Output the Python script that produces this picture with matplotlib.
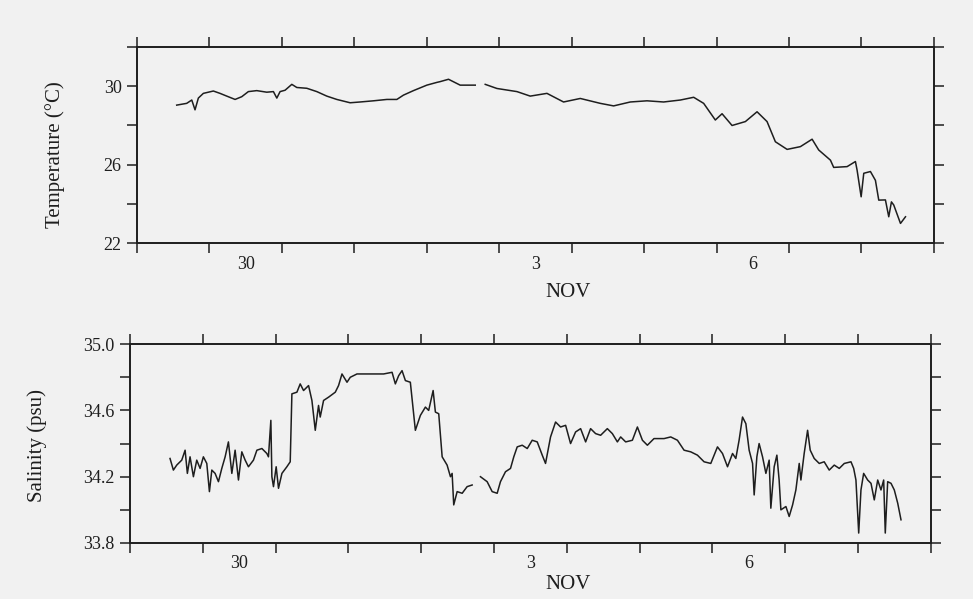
import numpy as np
import matplotlib.pyplot as plt

# x positions are days since 29 Oct 00:00 (ticks mark midnight)
temp_day = [0.548, 0.686, 0.756, 0.801, 0.847, 0.916, 1.054, 1.146, 1.239, 1.354,
            1.446, 1.537, 1.653, 1.791, 1.883, 1.930, 1.975, 2.044, 2.137, 2.206,
            2.344, 2.482, 2.620, 2.758, 2.942, 3.080, 3.264, 3.449, 3.587, 3.678,
            3.816, 4.001, 4.139, 4.185, 4.300, 4.461, 4.669, 4.740, 4.807, 4.968,
            5.245, 5.428, 5.659, 5.888, 6.119, 6.395, 6.579, 6.809, 7.040, 7.269,
            7.500, 7.684, 7.822, 7.983, 8.076, 8.214, 8.398, 8.559, 8.697, 8.812,
            8.974, 9.157, 9.319, 9.410, 9.572, 9.617, 9.802, 9.917, 9.940, 9.996,
            10.032, 10.124, 10.193, 10.239, 10.331, 10.377, 10.414, 10.446, 10.539, 10.608]
temp_val = [29.04, 29.13, 29.30, 28.80, 29.40, 29.64, 29.76, 29.64, 29.50, 29.33,
            29.47, 29.73, 29.78, 29.70, 29.73, 29.40, 29.73, 29.80, 30.10, 29.94,
            29.90, 29.73, 29.50, 29.33, 29.16, 29.20, 29.26, 29.33, 29.33, 29.55,
            29.78, 30.06, 30.20, 30.24, 30.36, 30.06, 30.06, np.nan, 30.10, 29.89,
            29.73, 29.50, 29.64, 29.20, 29.38, 29.13, 29.00, 29.20, 29.26, 29.20,
            29.30, 29.44, 29.13, 28.28, 28.60, 28.00, 28.20, 28.70, 28.20, 27.17,
            26.78, 26.92, 27.30, 26.75, 26.23, 25.86, 25.90, 26.16, 25.72, 24.36,
            25.56, 25.65, 25.20, 24.19, 24.20, 23.34, 24.10, 23.94, 23.00, 23.34]

sal_day = [0.550, 0.596, 0.642, 0.711, 0.757, 0.788, 0.825, 0.871, 0.917, 0.963,
           1.008, 1.055, 1.091, 1.124, 1.169, 1.215, 1.261, 1.307, 1.352, 1.399,
           1.444, 1.490, 1.536, 1.582, 1.627, 1.696, 1.743, 1.812, 1.880, 1.902,
           1.935, 1.949, 1.971, 2.008, 2.040, 2.087, 2.155, 2.201, 2.224, 2.293,
           2.338, 2.384, 2.453, 2.499, 2.545, 2.590, 2.613, 2.659, 2.728, 2.820,
           2.865, 2.912, 2.981, 3.026, 3.118, 3.301, 3.484, 3.600, 3.645, 3.691,
           3.737, 3.783, 3.851, 3.920, 3.989, 4.058, 4.103, 4.164, 4.195, 4.241,
           4.288, 4.356, 4.402, 4.425, 4.447, 4.494, 4.563, 4.631, 4.700, 4.760,
           4.814, 4.906, 4.975, 5.044, 5.089, 5.158, 5.227, 5.272, 5.319, 5.388,
           5.457, 5.525, 5.594, 5.663, 5.708, 5.777, 5.846, 5.915, 5.984, 6.052,
           6.121, 6.190, 6.259, 6.327, 6.396, 6.465, 6.557, 6.626, 6.695, 6.740,
           6.809, 6.901, 6.970, 7.039, 7.107, 7.198, 7.336, 7.428, 7.520, 7.611,
           7.703, 7.795, 7.886, 7.978, 8.070, 8.139, 8.208, 8.277, 8.322, 8.367,
           8.414, 8.460, 8.505, 8.552, 8.574, 8.611, 8.642, 8.689, 8.735, 8.780,
           8.803, 8.849, 8.886, 8.917, 8.941, 9.010, 9.055, 9.102, 9.147, 9.193,
           9.216, 9.261, 9.308, 9.344, 9.399, 9.468, 9.536, 9.605, 9.674, 9.743,
           9.812, 9.904, 9.941, 9.972, 10.010, 10.041, 10.078, 10.133, 10.179, 10.224,
           10.271, 10.316, 10.353, 10.375, 10.408, 10.454, 10.499, 10.546, 10.591]
sal_val = [34.31, 34.24, 34.27, 34.30, 34.36, 34.22, 34.32, 34.20, 34.30, 34.25,
           34.32, 34.28, 34.11, 34.24, 34.22, 34.17, 34.25, 34.32, 34.41, 34.22,
           34.36, 34.18, 34.35, 34.30, 34.26, 34.30, 34.36, 34.37, 34.34, 34.32,
           34.54, 34.20, 34.14, 34.26, 34.13, 34.22, 34.26, 34.29, 34.70, 34.71,
           34.76, 34.72, 34.75, 34.66, 34.48, 34.63, 34.56, 34.66, 34.68, 34.71,
           34.75, 34.82, 34.77, 34.80, 34.82, 34.82, 34.82, 34.83, 34.76, 34.81,
           34.84, 34.78, 34.77, 34.48, 34.57, 34.62, 34.60, 34.72, 34.59, 34.58,
           34.32, 34.27, 34.20, 34.22, 34.03, 34.11, 34.10, 34.14, 34.15, np.nan,
           34.20, 34.17, 34.11, 34.10, 34.17, 34.23, 34.25, 34.32, 34.38, 34.39,
           34.37, 34.42, 34.41, 34.33, 34.28, 34.44, 34.53, 34.50, 34.51, 34.40,
           34.47, 34.49, 34.41, 34.49, 34.46, 34.45, 34.49, 34.46, 34.41, 34.44,
           34.41, 34.42, 34.50, 34.42, 34.39, 34.43, 34.43, 34.44, 34.42, 34.36,
           34.35, 34.33, 34.29, 34.28, 34.38, 34.34, 34.26, 34.34, 34.31, 34.42,
           34.56, 34.52, 34.36, 34.28, 34.09, 34.32, 34.40, 34.32, 34.22, 34.30,
           34.01, 34.26, 34.33, 34.18, 34.00, 34.02, 33.96, 34.03, 34.12, 34.28,
           34.18, 34.34, 34.48, 34.36, 34.31, 34.28, 34.29, 34.24, 34.27, 34.25,
           34.28, 34.29, 34.25, 34.18, 33.86, 34.12, 34.22, 34.18, 34.16, 34.06,
           34.18, 34.12, 34.18, 33.86, 34.17, 34.16, 34.12, 34.04, 33.94]

day_ticks = np.arange(0, 12)
day_label_pos = [1.5, 5.5, 8.5]
day_labels = ['30', '3', '6']
temp_ticks = [22, 24, 26, 28, 30, 32]
temp_labels = ['22', '', '26', '', '30', '']
sal_ticks = [33.8, 34.0, 34.2, 34.4, 34.6, 34.8, 35.0]
sal_labels = ['33.8', '', '34.2', '', '34.6', '', '35.0']

plt.rcParams['font.family'] = ['Liberation Serif', 'DejaVu Serif']
bg = '#f1f1f1'
ink = '#1e1e1e'

fig = plt.figure(figsize=(9.73, 5.99), dpi=100, facecolor=bg)
ax1 = fig.add_axes([0.1408, 0.5943, 0.819, 0.327], facecolor=bg)
ax2 = fig.add_axes([0.1336, 0.0935, 0.823, 0.332], facecolor=bg)


def style(ax, yticks, ylabels):
    ax.set_xlim(0, 11)
    ax.set_xticks(day_ticks)
    ax.set_xticklabels([])
    ax.set_xticks(day_label_pos, minor=True)
    ax.set_xticklabels(day_labels, minor=True)
    ax.set_yticks(yticks)
    ax.set_yticklabels(ylabels)
    ax.set_ylim(yticks[0], yticks[-1])
    ax.tick_params(which='major', direction='out', length=7, width=1.1,
                   top=True, right=True, colors=ink, labelsize=13, pad=4)
    ax.tick_params(axis='x', which='minor', length=0, top=False, pad=9,
                   labelsize=13, labelcolor=ink)
    for s in ax.spines.values():
        s.set_linewidth(1.4)
        s.set_color(ink)


ax1.plot(temp_day, temp_val, color=ink, lw=1.1)
style(ax1, temp_ticks, temp_labels)
ax1.set_ylabel('Temperature (°C)', fontsize=15, color=ink)
ax1.yaxis.set_label_coords(-0.090, 0.45)
ax1.text(5.95, -0.255, 'NOV', transform=ax1.get_xaxis_transform(),
         ha='center', va='center', fontsize=15, color=ink)

ax2.plot(sal_day, sal_val, color=ink, lw=1.1)
style(ax2, sal_ticks, sal_labels)
ax2.set_ylabel('Salinity (psu)', fontsize=15, color=ink)
ax2.yaxis.set_label_coords(-0.104, 0.49)
ax2.text(6.02, -0.21, 'NOV', transform=ax2.get_xaxis_transform(),
         ha='center', va='center', fontsize=15, color=ink)

fig.savefig('out.png', dpi=100, facecolor=bg)
